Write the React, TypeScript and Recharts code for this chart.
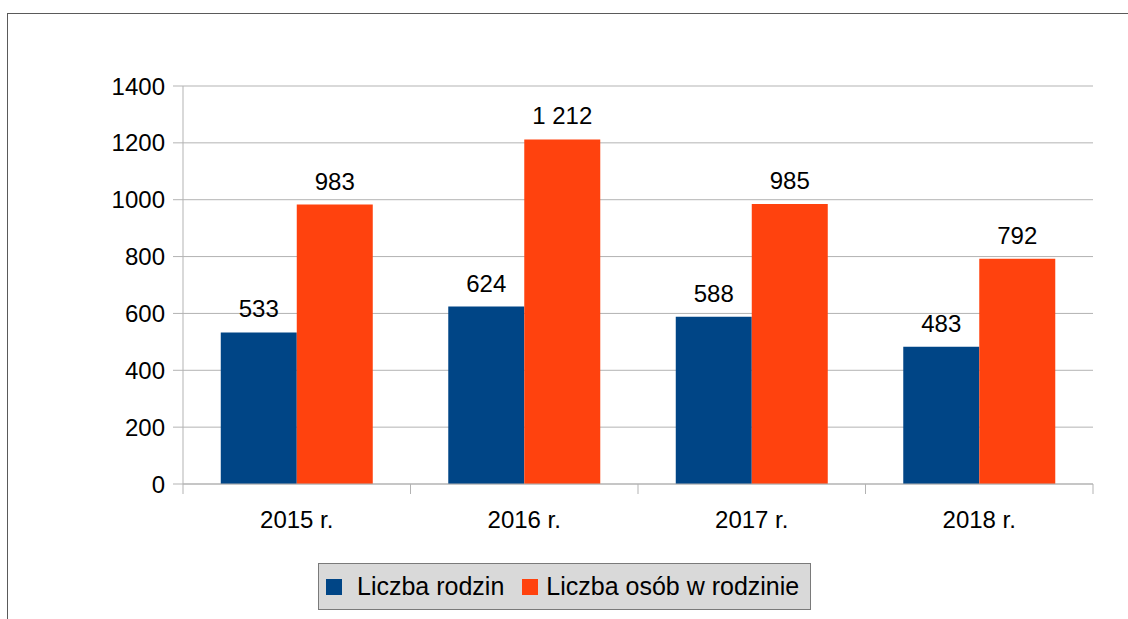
import { BarChart, Bar, XAxis, YAxis, CartesianGrid, LabelList } from 'recharts';

const years = ['2015 r.', '2016 r.', '2017 r.', '2018 r.'];
const familyCounts = [533, 624, 588, 483];
const personCounts = [983, 1212, 985, 792];
const yTicks = [0, 200, 400, 600, 800, 1000, 1200, 1400];

const series = [
  { key: 'rodziny', label: 'Liczba rodzin', color: '#004586' },
  { key: 'osoby', label: 'Liczba osób w rodzinie', color: '#ff420e' },
];

const data = years.map((year, i) => ({
  year,
  rodziny: familyCounts[i],
  osoby: personCounts[i],
}));

const FONT = '"Liberation Sans", Arial, sans-serif';
const GRID = '#b3b3b3';
const TICK_SIZE = 10;
const TICK_MARGIN = 17;

// 1212 -> "1 212"
const fmt = (v: unknown) => String(v).replace(/\B(?=(\d{3})+(?!\d))/g, ' ');

// category label + tick marks on the category boundaries (LibreOffice style)
function YearTick(props: any) {
  const { x, y, payload, index, visibleTicksCount } = props;
  const half = payload?.offset ?? 0;
  const axisY = y - TICK_SIZE - TICK_MARGIN;
  const last = index === visibleTicksCount - 1;
  return (
    <g>
      <line x1={x - half} x2={x - half} y1={axisY} y2={axisY + TICK_SIZE} stroke={GRID} />
      {last && <line x1={x + half} x2={x + half} y1={axisY} y2={axisY + TICK_SIZE} stroke={GRID} />}
      <text x={x} y={y} dy="0.71em" textAnchor="middle" fill="#000" fontSize={24} fontFamily={FONT}>
        {payload.value}
      </text>
    </g>
  );
}

export default function App() {
  return (
    <div
      style={{
        position: 'absolute',
        left: 0,
        top: 0,
        width: 1128,
        height: 619,
        background: '#fff',
        overflow: 'hidden',
        fontFamily: FONT,
      }}
    >
      <div
        style={{
          position: 'absolute',
          left: 7,
          top: 13,
          width: 1140,
          height: 640,
          border: '1px solid #5a5a5a',
        }}
      />
      <div style={{ position: 'absolute', left: 0, top: 0 }}>
        <BarChart
          width={1128}
          height={619}
          data={data}
          margin={{ top: 86, right: 35, left: 0, bottom: 95 }}
          barCategoryGap="16.6%"
          barGap={0}
        >
          <CartesianGrid vertical={false} stroke={GRID} />
          <XAxis
            dataKey="year"
            height={40}
            interval={0}
            axisLine={{ stroke: GRID }}
            tickLine={false}
            tickSize={TICK_SIZE}
            tickMargin={TICK_MARGIN}
            tick={<YearTick />}
          />
          <YAxis
            width={183}
            domain={[0, 1400]}
            ticks={yTicks}
            interval={0}
            axisLine={{ stroke: GRID }}
            tickLine={{ stroke: GRID }}
            tickSize={10}
            tickMargin={8}
            tick={{ fill: '#000', fontSize: 24, fontFamily: FONT }}
          />
          <YAxis
            yAxisId="frame"
            orientation="right"
            width={0}
            tick={false}
            tickLine={false}
            axisLine={{ stroke: GRID }}
          />
          {series.map((s) => (
            <Bar key={s.key} dataKey={s.key} name={s.label} fill={s.color} isAnimationActive={false}>
              <LabelList
                dataKey={s.key}
                position="top"
                offset={15}
                formatter={fmt}
                style={{ fill: '#000', fontSize: 24, fontFamily: FONT }}
              />
            </Bar>
          ))}
        </BarChart>
      </div>
      <div
        style={{
          position: 'absolute',
          left: 318,
          top: 563,
          width: 493,
          height: 47,
          boxSizing: 'border-box',
          background: '#d9d9d9',
          border: '1px solid #7a7a7a',
          display: 'flex',
          alignItems: 'center',
          paddingLeft: 7,
          fontSize: 25,
          color: '#000',
          whiteSpace: 'nowrap',
        }}
      >
        {series.map((s, i) => (
          <div key={s.key} style={{ display: 'flex', alignItems: 'center', marginLeft: i ? 18 : 0 }}>
            <span
              style={{
                display: 'inline-block',
                width: 16,
                height: 16,
                background: s.color,
                marginRight: i ? 8 : 15,
              }}
            />
            <span>{s.label}</span>
          </div>
        ))}
      </div>
    </div>
  );
}
